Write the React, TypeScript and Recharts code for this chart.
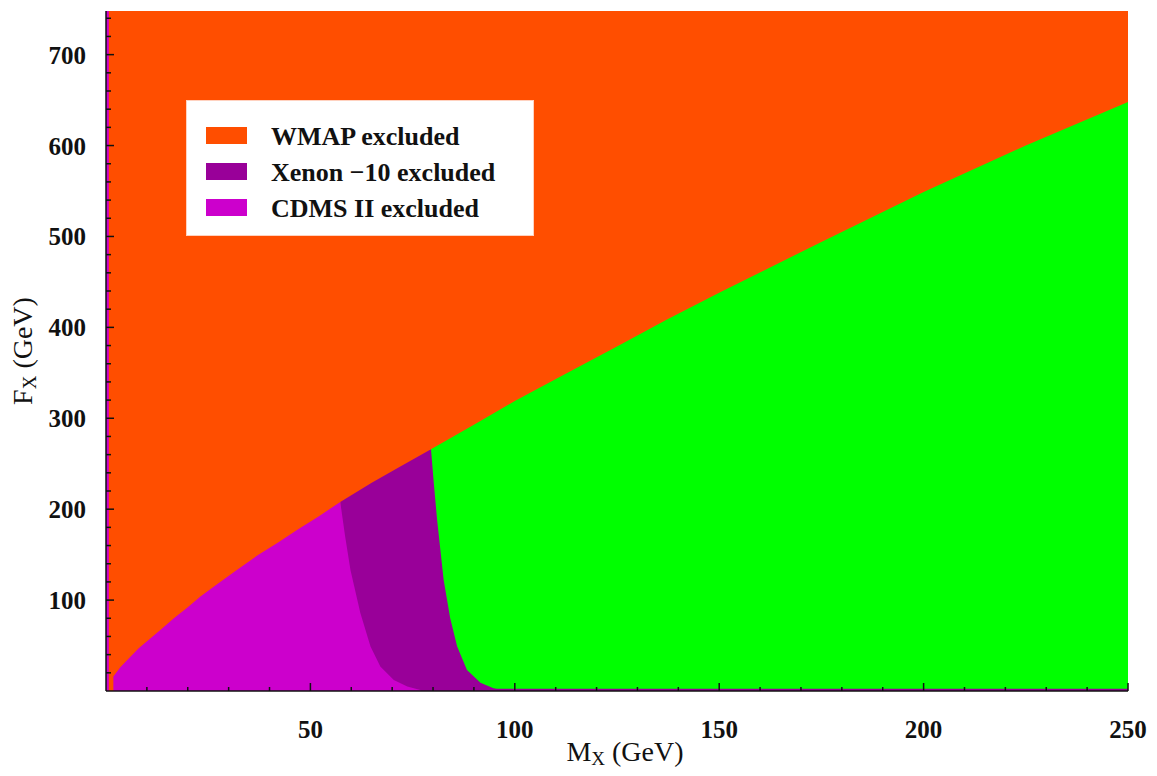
import { ComposedChart, Area, XAxis, YAxis, CartesianGrid, ReferenceArea, Legend } from "recharts";

// upper edge of the allowed region (WMAP relic density bound)
const wmapMass = [1.8, 3.5, 5.2, 8, 10.9, 13.5, 16.6, 20, 23.1, 27, 32, 37, 42, 47, 52, 57.3, 65, 72, 79.5, 90, 100, 112, 125, 137, 150, 175, 200, 225, 250];
const wmapF = [16, 26, 34, 47, 58, 68, 80, 92, 104, 117, 133, 149, 163, 178, 192, 208, 229, 247, 266, 293, 319, 348, 379, 408, 438, 494, 549, 600, 648];

// right edge of the CDMS II excluded region
const cdmsEdgeMass = [58.5, 59.8, 62.2, 64.7, 67.1, 70.4, 73.7, 76.9];
const cdmsEdgeF = [170, 133, 86, 49, 27, 12, 5, 1];

// right edge of the Xenon-10 excluded region
const xenonEdgeMass = [80.2, 81.0, 82.6, 84.2, 85.9, 88.3, 91.6, 94.8, 97];
const xenonEdgeF = [228, 188, 122, 80, 49, 23, 9, 3, 0.5];

const xMajor = [50, 100, 150, 200, 250];
const xTicks = [10, 20, 30, 40, 50, 60, 70, 80, 90, 100, 110, 120, 130, 140, 150, 160, 170, 180, 190, 200, 210, 220, 230, 240, 250];
const yMajor = [100, 200, 300, 400, 500, 600, 700];
const yTicks = [20, 40, 60, 80, 100, 120, 140, 160, 180, 200, 220, 240, 260, 280, 300, 320, 340, 360, 380, 400, 420, 440, 460, 480, 500, 520, 540, 560, 580, 600, 620, 640, 660, 680, 700, 720, 740];

const legendLabels = ["WMAP excluded", "Xenon \u221210 excluded", "CDMS II excluded"];

const ORANGE = "#FF4E00";
const PURPLE = "#990099";
const MAGENTA = "#CC00CC";
const GREEN = "#00FF00";
const legendColors = [ORANGE, PURPLE, MAGENTA];
const FONT = '"Liberation Serif", "Times New Roman", serif';

type Row = { m: number; cdms?: number; xenon?: number; open?: number };
const rows: Row[] = [];
wmapMass.forEach((m, i) => {
  if (m <= 57.3) rows.push({ m, cdms: wmapF[i] });
  if (m >= 57.3 && m <= 79.5) rows.push({ m, xenon: wmapF[i] });
  if (m >= 79.5) rows.push({ m, open: wmapF[i] });
});
cdmsEdgeMass.forEach((m, i) => rows.push({ m, cdms: cdmsEdgeF[i] }));
xenonEdgeMass.forEach((m, i) => rows.push({ m, xenon: xenonEdgeF[i] }));
rows.sort((a, b) => a.m - b.m);

const tickFont = { fontFamily: FONT, fontSize: 25, fontWeight: 700, fill: "#111" };

function xTick(side: "bottom" | "top") {
  return (p: any) => {
    const v = p.payload.value;
    const len = xMajor.includes(v) ? 8 : 4;
    const d = side === "bottom" ? -len : len;
    return (
      <g>
        <line x1={p.x} x2={p.x} y1={p.y} y2={p.y + d} stroke="#111" strokeWidth={1.5} />
        {side === "bottom" && xMajor.includes(v) && (
          <text x={p.x} y={p.y + 47} textAnchor="middle" {...tickFont}>{v}</text>
        )}
      </g>
    );
  };
}

function yTick(side: "left" | "right") {
  return (p: any) => {
    const v = p.payload.value;
    const len = yMajor.includes(v) ? 8 : 5;
    const d = side === "left" ? len : -len;
    return (
      <g>
        <line x1={p.x} x2={p.x + d} y1={p.y} y2={p.y} stroke="#111" strokeWidth={1.5} />
        {side === "left" && yMajor.includes(v) && (
          <text x={p.x - 20} y={p.y + 9} textAnchor="end" {...tickFont}>{v}</text>
        )}
      </g>
    );
  };
}

const XTitle = (props: any) => {
  const vb = props.viewBox || { x: 98, y: 683, width: 1022, height: 60 };
  return (
    <text x={vb.x + vb.width / 2 + 8} y={vb.y + 70} textAnchor="middle" fontFamily={FONT} fontSize={28} fill="#111">
      M<tspan fontSize={19} dy={4}>X</tspan>
      <tspan dy={-4}> (GeV)</tspan>
    </text>
  );
};

const YTitle = (props: any) => {
  const vb = props.viewBox || { x: 38, y: 3, width: 60, height: 680 };
  const cx = vb.x - 14;
  const cy = vb.y + vb.height / 2;
  return (
    <text x={cx} y={cy} transform={`rotate(-90, ${cx}, ${cy})`} textAnchor="middle" fontFamily={FONT} fontSize={28} fill="#111">
      F<tspan fontSize={19} dy={4}>X</tspan>
      <tspan dy={-4}> (GeV)</tspan>
    </text>
  );
};

const LegendBox = () => (
  <svg width={348} height={136}>
    <rect x={0.5} y={0.5} width={347} height={135} fill="#fff" stroke="#ffd2c0" />
    {legendLabels.map((label, i) => (
      <g key={label}>
        <rect x={20} y={27 + 36 * i} width={41} height={17} fill={legendColors[i]} />
        <text x={85} y={45 + 36 * i} fontFamily={FONT} fontSize={26} fontWeight={700} fill="#111">
          {label}
        </text>
      </g>
    ))}
  </svg>
);

export default function App() {
  return (
    <ComposedChart width={1140} height={760} data={rows} margin={{ top: 3, right: 20, bottom: 17, left: 38 }}>
      <CartesianGrid horizontal={false} vertical={false} fill={ORANGE} />
      <XAxis
        dataKey="m"
        type="number"
        domain={[0, 250]}
        allowDataOverflow
        ticks={xTicks}
        interval={0}
        tick={xTick("bottom")}
        tickLine={false}
        tickSize={0}
        tickMargin={0}
        height={60}
        axisLine={{ stroke: "#111", strokeWidth: 1.5 }}
        label={{ content: XTitle }}
      />
      <XAxis
        xAxisId="top"
        orientation="top"
        dataKey="m"
        type="number"
        domain={[0, 250]}
        allowDataOverflow
        ticks={xTicks}
        interval={0}
        tick={xTick("top")}
        tickLine={false}
        tickSize={0}
        tickMargin={0}
        height={0}
        axisLine={{ stroke: "#111", strokeWidth: 1.5 }}
      />
      <YAxis
        type="number"
        domain={[0, 748]}
        allowDataOverflow
        ticks={yTicks}
        interval={0}
        tick={yTick("left")}
        tickLine={false}
        tickSize={0}
        tickMargin={0}
        width={60}
        axisLine={{ stroke: "#111", strokeWidth: 1.5 }}
        label={{ content: YTitle }}
      />
      <YAxis
        yAxisId="right"
        orientation="right"
        type="number"
        domain={[0, 748]}
        allowDataOverflow
        ticks={yTicks}
        interval={0}
        tick={yTick("right")}
        tickLine={false}
        tickSize={0}
        tickMargin={0}
        width={0}
        axisLine={{ stroke: "#111", strokeWidth: 1.5 }}
      />
      <Area dataKey="open" type="linear" fill={GREEN} fillOpacity={1} stroke="none" connectNulls dot={false} activeDot={false} isAnimationActive={false} />
      <Area dataKey="xenon" type="linear" fill={PURPLE} fillOpacity={1} stroke="none" connectNulls dot={false} activeDot={false} isAnimationActive={false} />
      <Area dataKey="cdms" type="linear" fill={MAGENTA} fillOpacity={1} stroke="none" connectNulls dot={false} activeDot={false} isAnimationActive={false} />
      <ReferenceArea x1={0} x2={0.7} y1={0} y2={748} fill={MAGENTA} fillOpacity={1} stroke="none" />
      <ReferenceArea x1={94} x2={250} y1={0} y2={2.5} fill={PURPLE} fillOpacity={1} stroke="none" />
      <Legend
        layout="vertical"
        align="center"
        verticalAlign="middle"
        wrapperStyle={{ left: 178, top: 92, width: 348, height: 136 }}
        content={() => <LegendBox />}
      />
    </ComposedChart>
  );
}
